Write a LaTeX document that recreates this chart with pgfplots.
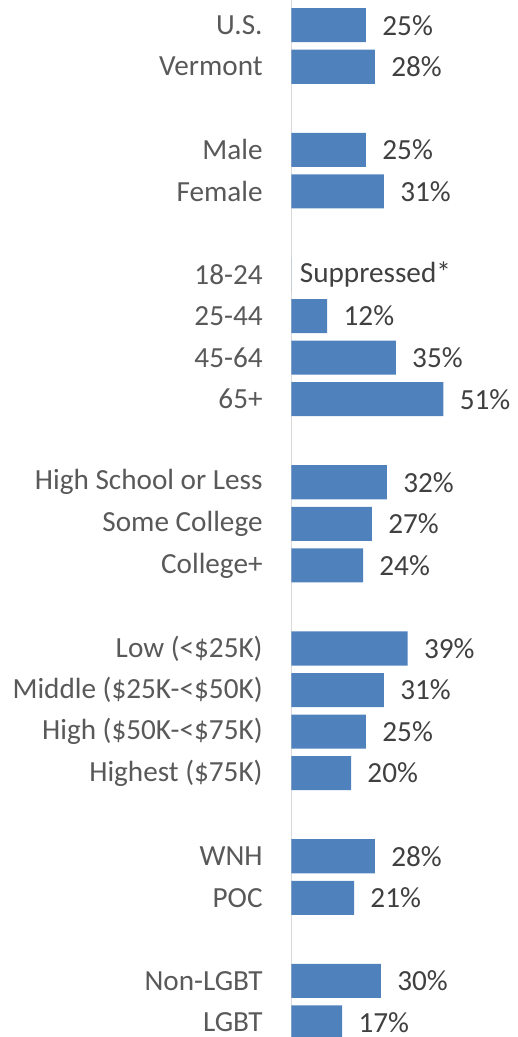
\documentclass[border=0pt]{standalone}
\usepackage{pgfplots}
\pgfplotsset{compat=1.18}
\usepackage{fontspec}
\setmainfont{Carlito}
\definecolor{barblue}{HTML}{4F81BD}
\definecolor{labgray}{HTML}{595959}
\definecolor{valgray}{HTML}{404040}
\definecolor{axgray}{HTML}{D9D9D9}
\begin{document}
\begin{tikzpicture}
\begin{axis}[
  scale only axis, width=259pt, height=518.5pt,
  xbar, bar width=0.82,
  xmin=-97.8, xmax=76, ymin=-0.606, ymax=24.35, y dir=reverse,
  axis line style={draw=none},
  xtick=\empty,
  ytick={0,1,3,4,6,7,8,9,11,12,13,15,16,17,18,20,21,23,24},
  yticklabels={{U.S.},{Vermont},{Male},{Female},{18-24},{25-44},{45-64},{65+},{High School or Less},{Some College},{College+},{Low (<\$25K)},{Middle (\$25K-<\$50K)},{High (\$50K-<\$75K)},{Highest (\$75K)},{WNH},{POC},{Non-LGBT},{LGBT}},
  major tick length=0pt,
  yticklabel style={anchor=east, inner sep=0pt, xshift=131.5pt, font=\fontsize{14.6}{16}\selectfont, text=labgray},
  clip=false,
  nodes near coords,
  point meta=explicit symbolic,
  nodes near coords style={anchor=west, inner sep=0pt, xshift=8pt, font=\fontsize{14.6}{16}\selectfont, text=valgray},
]
\draw[axgray, line width=0.8pt] (axis cs:0,-0.606) -- (axis cs:0,24.35);
\addplot[fill=barblue, draw=none] coordinates {
  (25,0) [25\%]
  (28,1) [28\%]
  (25,3) [25\%]
  (31,4) [31\%]
  (0,6) [\hspace{-4pt}Suppressed*]
  (12,7) [12\%]
  (35,8) [35\%]
  (51,9) [51\%]
  (32,11) [32\%]
  (27,12) [27\%]
  (24,13) [24\%]
  (39,15) [39\%]
  (31,16) [31\%]
  (25,17) [25\%]
  (20,18) [20\%]
  (28,20) [28\%]
  (21,21) [21\%]
  (30,23) [30\%]
  (17,24) [17\%]
};
\end{axis}
\pgfresetboundingbox
\path (current axis.south west) rectangle (current axis.north east);
\end{tikzpicture}
\end{document}
